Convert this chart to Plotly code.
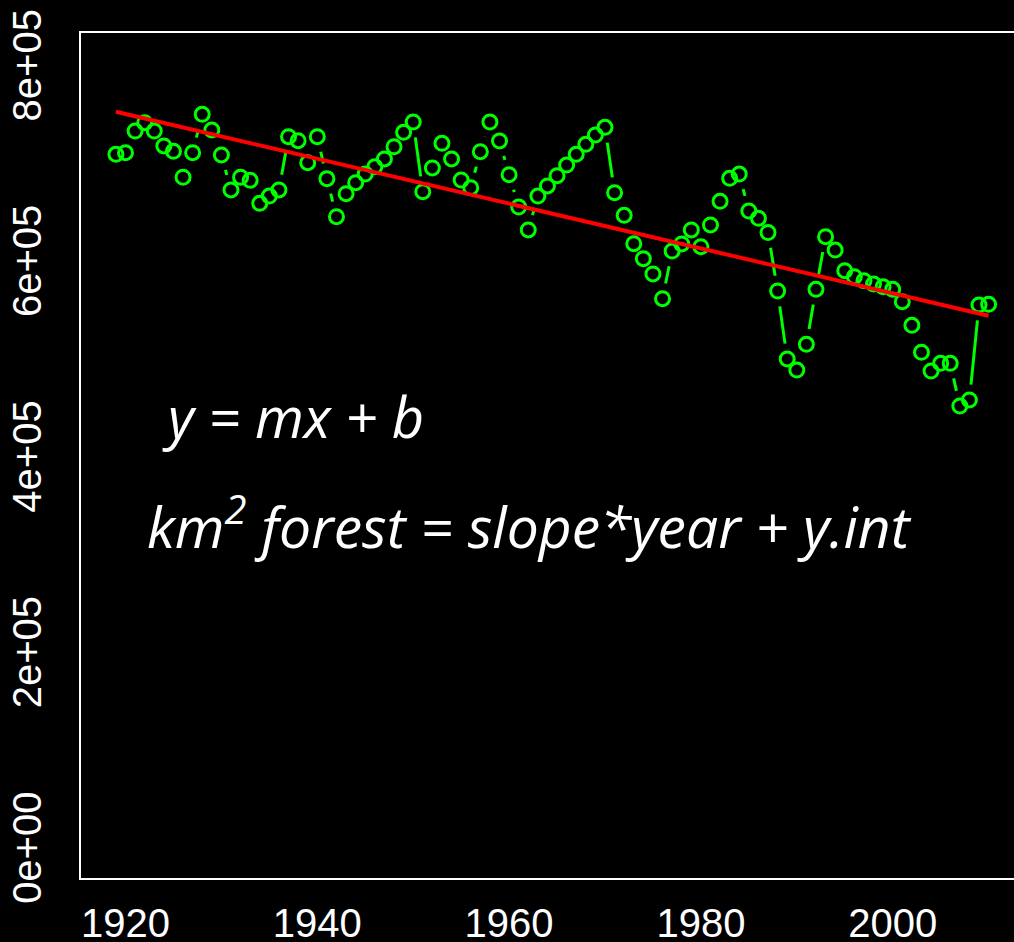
import numpy as np
import plotly.graph_objects as go

# Forest area (km^2) by year
years = list(range(1919, 2011))
forest_km2 = [
    708.0, 709.6, 731.8, 740.3, 731.8, 716.5, 711.0, 684.5, 709.6, 748.9, 732.8,   # 1919-1929
    707.3, 671.5, 684.5, 681.4, 657.9, 665.3, 671.5, 726.0, 721.9, 699.4,          # 1930s
    726.0, 683.1, 644.2, 667.7, 678.9, 687.8, 695.3, 703.2, 715.7, 730.5,          # 1940s
    741.0, 669.7, 694.0, 719.2, 703.2, 681.7, 673.8, 710.6, 741.0, 721.6,          # 1950s
    687.1, 654.1, 630.6, 665.3, 675.6, 686.1, 697.0, 708.0, 718.2, 727.7,          # 1960s
    735.6, 668.7, 645.6, 616.6, 601.2, 585.6, 560.3, 609.1, 616.3, 630.6,          # 1970s
    613.5, 635.7, 659.9, 683.4, 687.8, 650.0, 642.5, 628.0, 568.2, 498.7,          # 1980s
    487.4, 513.7, 569.9, 623.7, 610.1, 589.0, 582.8, 578.7, 575.4, 572.6,          # 1990s
    569.9, 557.3, 533.1, 505.5, 486.4, 494.3, 494.3, 450.6, 456.8, 553.9, 554.6,   # 2000-2010
]
forest_km2 = [v * 1000 for v in forest_km2]

y_tick_vals = [0, 200000, 400000, 600000, 800000]
y_tick_text = ["0e+00", "2e+05", "4e+05", "6e+05", "8e+05"]
x_tick_vals = [1920, 1940, 1960, 1980, 2000]

# Figure geometry
W, H = 1014, 942
ML, MR, MT, MB = 81, 0, 33, 64
plot_w, plot_h = W - ML - MR, H - MT - MB
x_range = [1915.36, 1915.36 + plot_w / 9.59]
y_range = [-32000, 832000]

GREEN = "#00ff00"

# Connecting segments that stop short of each point marker (type="b" style)
sx = plot_w / (x_range[1] - x_range[0])
sy = plot_h / (y_range[1] - y_range[0])
gap = 15.5
seg_x, seg_y = [], []
for i in range(len(years) - 1):
    x1, y1, x2, y2 = years[i], forest_km2[i], years[i + 1], forest_km2[i + 1]
    dxp, dyp = (x2 - x1) * sx, (y2 - y1) * sy
    d = (dxp ** 2 + dyp ** 2) ** 0.5
    if d <= 2 * gap:
        continue
    f = gap / d
    seg_x += [x1 + (x2 - x1) * f, x2 - (x2 - x1) * f, None]
    seg_y += [y1 + (y2 - y1) * f, y2 - (y2 - y1) * f, None]

# Least-squares trend line
m, b = np.polyfit(years, forest_km2, 1)
fit_x = [years[0], years[-1]]
fit_y = [m * x + b for x in fit_x]

fig = go.Figure()
fig.add_trace(go.Scatter(x=seg_x, y=seg_y, mode="lines",
                         line=dict(color=GREEN, width=3), hoverinfo="skip"))
fig.add_trace(go.Scatter(x=years, y=forest_km2, mode="markers",
                         marker=dict(symbol="circle-open", size=14, color=GREEN,
                                     line=dict(color=GREEN, width=3))))
fig.add_trace(go.Scatter(x=fit_x, y=fit_y, mode="lines",
                         line=dict(color="#ff0000", width=4)))

ann_font = dict(family="Open Sans", size=56, color="white")
fig.add_annotation(xref="paper", yref="paper", x=(160 - ML) / plot_w, y=(878 - 440) / plot_h,
                   xanchor="left", yanchor="bottom", yshift=-16, showarrow=False,
                   text="<i>y = mx + b</i>", font=ann_font)
fig.add_annotation(xref="paper", yref="paper", x=(145 - ML) / plot_w, y=(878 - 551) / plot_h,
                   xanchor="left", yanchor="bottom", yshift=-16, showarrow=False,
                   text="<i>km<sup>2</sup> forest = slope*year + y.int</i>",
                   font=dict(family="Open Sans", size=57, color="white"))

axis_font = dict(family="Liberation Sans, Arial", size=40, color="white")
fig.update_layout(
    width=W, height=H, margin=dict(l=ML, r=MR, t=MT, b=MB),
    paper_bgcolor="black", plot_bgcolor="black", showlegend=False,
    xaxis=dict(range=x_range, tickvals=x_tick_vals, tickfont=axis_font,
               automargin=False,
               showgrid=False, zeroline=False, showline=True, mirror=True,
               linecolor="white", linewidth=1.5, ticks="", ticklabelstandoff=9),
    yaxis=dict(range=y_range, tickvals=y_tick_vals, ticktext=y_tick_text,
               tickangle=-90, tickfont=axis_font, ticklabelstandoff=22,
               ticklabelshift=7, ticklabeloverflow="allow", automargin=False,
               showgrid=False, zeroline=False, showline=True, mirror=False,
               linecolor="white", linewidth=1.5, ticks=""),
)

fig.write_html("out.html")
